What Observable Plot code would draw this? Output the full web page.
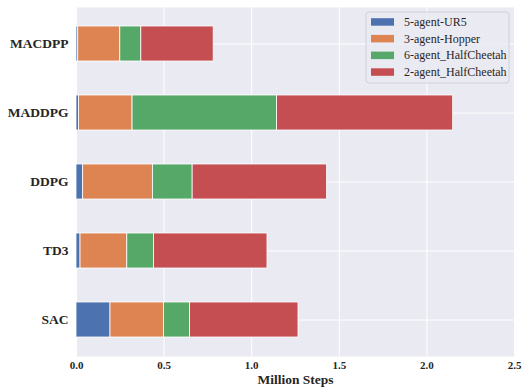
<!DOCTYPE html>
<html>
<head>
<meta charset="utf-8">
<script src="https://cdn.jsdelivr.net/npm/d3@7"></script>
<script src="https://cdn.jsdelivr.net/npm/@observablehq/plot@0.6"></script>
<style>
  html, body { margin: 0; padding: 0; background: #fff; }
  #chart { position: relative; width: 525px; height: 391px; }
</style>
</head>
<body>
<div id="chart"></div>
<script>
const methods = ["MACDPP", "MADDPG", "DDPG", "TD3", "SAC"];
const series = ["5-agent-UR5", "3-agent-Hopper", "6-agent_HalfCheetah", "2-agent_HalfCheetah"];
const ur5 = [0.010, 0.014, 0.038, 0.023, 0.194];
const hopper = [0.240, 0.306, 0.398, 0.267, 0.305];
const cheetah6 = [0.120, 0.825, 0.227, 0.152, 0.149];
const cheetah2 = [0.413, 1.005, 0.767, 0.648, 0.619];
const xTicks = [0, 0.5, 1.0, 1.5, 2.0, 2.5];
const colors = ["#4C72B0", "#DD8452", "#55A868", "#C44E52"];
const xLabel = "Million Steps";

const seriesValues = [ur5, hopper, cheetah6, cheetah2];
const data = [];
series.forEach((s, si) => {
  methods.forEach((m, mi) => data.push({method: m, series: s, value: seriesValues[si][mi]}));
});

const font = "'Liberation Serif', 'Times New Roman', serif";

const chart = Plot.plot({
  width: 525,
  height: 391,
  marginLeft: 76,
  marginRight: 11,
  marginTop: 7,
  marginBottom: 35,
  style: {fontFamily: font, background: "#fff", color: "#262626"},
  x: {domain: [0, 2.5]},
  y: {domain: methods, paddingInner: 0.5, paddingOuter: 0.25},
  color: {domain: series, range: colors},
  marks: [
    Plot.frame({fill: "#EAEAF2", stroke: "none"}),
    Plot.gridX(xTicks, {stroke: "#fff", strokeOpacity: 1, strokeWidth: 1}),
    Plot.gridY({stroke: "#fff", strokeOpacity: 1, strokeWidth: 1}),
    Plot.barX(data, Plot.stackX({x: "value", y: "method", fill: "series", stroke: "#fff", strokeWidth: 0.8, order: series})),
    Plot.axisY({tickSize: 0, tickPadding: 8, fontSize: 13.5, fontWeight: "bold", label: null, fill: "#262626"}),
    Plot.axisX({ticks: xTicks, tickFormat: d3.format(".1f"), tickSize: 0, tickPadding: 5, fontSize: 11, fontWeight: "bold", label: null, fill: "#262626"}),
    Plot.text([xLabel], {text: d => d, frameAnchor: "bottom", dy: 27, fontSize: 13.5, fontWeight: "bold", fill: "#262626"})
  ]
});
document.getElementById("chart").appendChild(chart);

// Legend inside the plot area (upper right)
const svg = d3.select(chart);
const lg = svg.append("g")
  .attr("transform", "translate(366,12)")
  .attr("text-anchor", "start")
  .style("font-family", font);
lg.append("rect")
  .attr("width", 143).attr("height", 71).attr("rx", 3)
  .attr("fill", "#EAEAF2").attr("fill-opacity", 0.8)
  .attr("stroke", "#d0d0d8").attr("stroke-width", 1);
const items = lg.selectAll("g.item").data(series).join("g")
  .attr("class", "item")
  .attr("transform", (d, i) => `translate(0,${9.7 + i * 16.7})`);
items.append("rect")
  .attr("x", 5).attr("y", -3.5).attr("width", 23).attr("height", 7.5)
  .attr("fill", (d, i) => colors[i]);
items.append("text")
  .attr("x", 38).attr("dy", "0.35em")
  .attr("text-anchor", "start")
  .attr("font-size", 12).attr("fill", "#262626")
  .text(d => d);
</script>
</body>
</html>
